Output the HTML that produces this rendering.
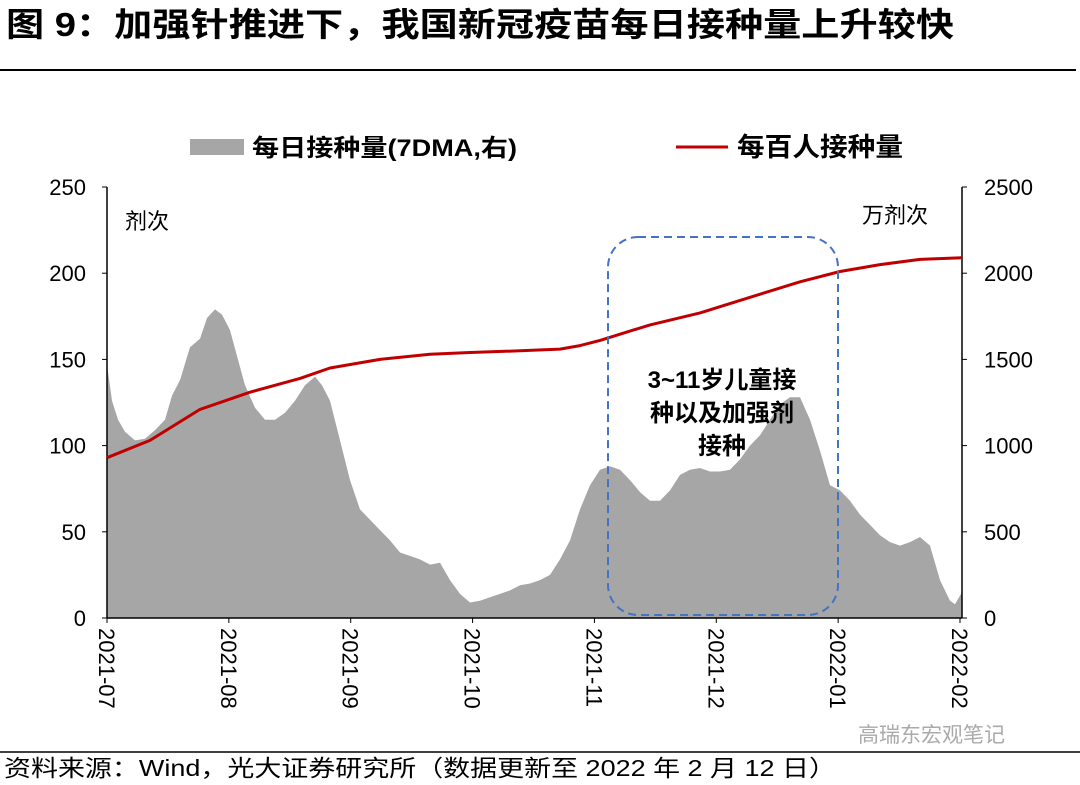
<!DOCTYPE html>
<html><head><meta charset="utf-8"><style>
body{margin:0;background:#fff;width:1080px;height:780px;overflow:hidden;font-family:"Liberation Sans","Noto Sans CJK SC",sans-serif}
</style></head><body>
<svg width="1080" height="780" xmlns="http://www.w3.org/2000/svg" font-family="Liberation Sans, Noto Sans CJK SC, sans-serif">
<text x="6" y="36" font-size="33" font-weight="bold" fill="#000" textLength="948" lengthAdjust="spacingAndGlyphs">图 9：加强针推进下，我国新冠疫苗每日接种量上升较快</text>
<line x1="0" y1="70" x2="1076" y2="70" stroke="#000" stroke-width="2"/>
<g id="plot"></g>
<line x1="0" y1="752" x2="1080" y2="752" stroke="#000" stroke-width="1.5"/>
<text x="4" y="776" font-size="23" fill="#000" textLength="832" lengthAdjust="spacingAndGlyphs">资料来源：Wind，光大证券研究所（数据更新至 2022 年 2 月 12 日）</text>
<text x="858" y="742" font-size="21" fill="#aaa">高瑞东宏观笔记</text>
</svg>
<script>
const monthLabels=["2021-07","2021-08","2021-09","2021-10","2021-11","2021-12","2022-01","2022-02"];
const leftTicks=[0,50,100,150,200,250];
const rightTicks=[0,500,1000,1500,2000,2500];
const areaDays=[0,1.25,2.75,4.5,7,9.5,12,14.5,16.25,18.25,20.75,23.25,25,27,28.75,30.75,32.5,34.5,37,39.5,42,44.5,47,49.5,52,53.75,55.75,58.25,60.75,63.25,65.75,68.25,70.75,73.25,75.75,78.25,80.75,83.25,85.75,88.25,90.75,93.25,95.75,98.25,100.75,103.25,105.75,108.25,110.75,113.25,115.75,118.25,120.75,123.25,125.75,128.25,130.75,133.25,135.75,138.25,140.75,143.25,145.75,148.25,150.75,153.25,155.75,158.25,160.75,163.25,165.75,168.25,170.75,173.25,175.75,178.25,180.75,183.25,185.75,188.25,190.75,193.25,195.75,198.25,200.75,203.25,205.75,208.25,210.75,212,213.75];
const areaVals=[1470,1260,1150,1080,1030,1040,1090,1150,1290,1380,1570,1620,1740,1790,1760,1670,1520,1350,1220,1150,1150,1190,1260,1350,1400,1350,1260,1030,800,630,570,510,450,380,360,340,310,320,220,140,90,100,120,140,160,190,200,220,250,340,450,630,770,860,880,860,800,730,680,680,740,830,860,870,850,850,860,920,1000,1060,1150,1240,1280,1280,1150,970,770,740,680,600,540,480,440,420,440,470,420,220,100,80,150];
const lineDays=[0,10.75,23.25,35.75,48.25,55.75,68.25,80.75,90.75,103.25,113.25,118.25,123.25,135.75,148.25,160.75,173.25,183.25,193.25,203.25,213.75];
const lineVals=[93,103,121,131,139,145,150,153,154,155,156,158,161,170,177,186,195,201,205,208,209];
const ns="http://www.w3.org/2000/svg";
const X0=107,X1=962,Y0=618,Y1=187,DMAX=213.75;
const x=d=>X0+(X1-X0)*d/DMAX;
const yl=v=>Y0-(Y0-Y1)*v/250;
const yr=v=>Y0-(Y0-Y1)*v/2500;
const g=document.getElementById('plot');
function mk(t,a,txt){const e=document.createElementNS(ns,t);for(const k in a)e.setAttribute(k,a[k]);if(txt!==undefined)e.textContent=txt;g.appendChild(e);return e;}
let d="M"+x(areaDays[0])+","+Y0;
areaDays.forEach((dd,i)=>{d+=" L"+x(dd).toFixed(1)+","+yr(areaVals[i]).toFixed(1);});
d+=" L"+x(areaDays[areaDays.length-1])+","+Y0+"Z";
const ar=mk('path',{d:d,fill:'#a6a6a6'});


const ax=mk('line',{x1:X0,y1:Y0,x2:X1,y2:Y0,stroke:'#000','stroke-width':1.5});


const la=mk('line',{x1:X0,y1:Y1,x2:X0,y2:Y0,stroke:'#000','stroke-width':1.5});


const ra=mk('line',{x1:X1,y1:Y1,x2:X1,y2:Y0,stroke:'#000','stroke-width':1.5});


leftTicks.forEach(v=>{
 const t=mk('line',{x1:X0-5,y1:yl(v),x2:X0,y2:yl(v),stroke:'#000'});
 
 
 const l=mk('text',{x:X0-21,y:yl(v)+8,'font-size':22,'text-anchor':'end'},v);
 
 
});
rightTicks.forEach(v=>{
 const t=mk('line',{x1:X1,y1:yr(v),x2:X1+5,y2:yr(v),stroke:'#000'});
 
 
 const l=mk('text',{x:X1+22,y:yr(v)+8,'font-size':22},v);
 
 
});
monthLabels.forEach((m,i)=>{
 const xx=X0+i*(X1-2-X0)/7;
 const t=mk('line',{x1:xx,y1:Y0,x2:xx,y2:Y0+5,stroke:'#000'});
 
 
 const l=mk('text',{x:0,y:0,'font-size':22,transform:`translate(${xx-8},${Y0+10}) rotate(90)`},m);
 
 
});
const pts=lineDays.map((dd,i)=>x(dd).toFixed(1)+","+yl(lineVals[i]).toFixed(1)).join(" ");
const pl=mk('polyline',{points:pts,fill:'none',stroke:'#c00000','stroke-width':3,'stroke-linejoin':'round'});


const u1=mk('text',{x:125,y:229,'font-size':22},'剂次');


const u2=mk('text',{x:862,y:223,'font-size':22},'万剂次');


const lg1=mk('rect',{x:190,y:139,width:54,height:16,fill:'#a6a6a6'});


const lt1=mk('text',{x:252,y:156,'font-size':24,'font-weight':'bold',textLength:265,lengthAdjust:'spacingAndGlyphs'},'每日接种量(7DMA,右)');


const lg2=mk('line',{x1:676,y1:147,x2:728,y2:147,stroke:'#c00000','stroke-width':3});


const lt2=mk('text',{x:737,y:156,'font-size':26,'font-weight':'bold',textLength:166,lengthAdjust:'spacingAndGlyphs'},'每百人接种量');


const bx=mk('rect',{x:608,y:237,width:230,height:378,rx:30,fill:'none',stroke:'#4472c4','stroke-width':2,'stroke-dasharray':'8,5'});


["3~11岁儿童接","种以及加强剂","接种"].forEach((s,i)=>{
 const t=mk('text',{x:722,y:388+i*33,'font-size':24,'font-weight':'bold','text-anchor':'middle'},s);
 
 
});
</script>
</body></html>
